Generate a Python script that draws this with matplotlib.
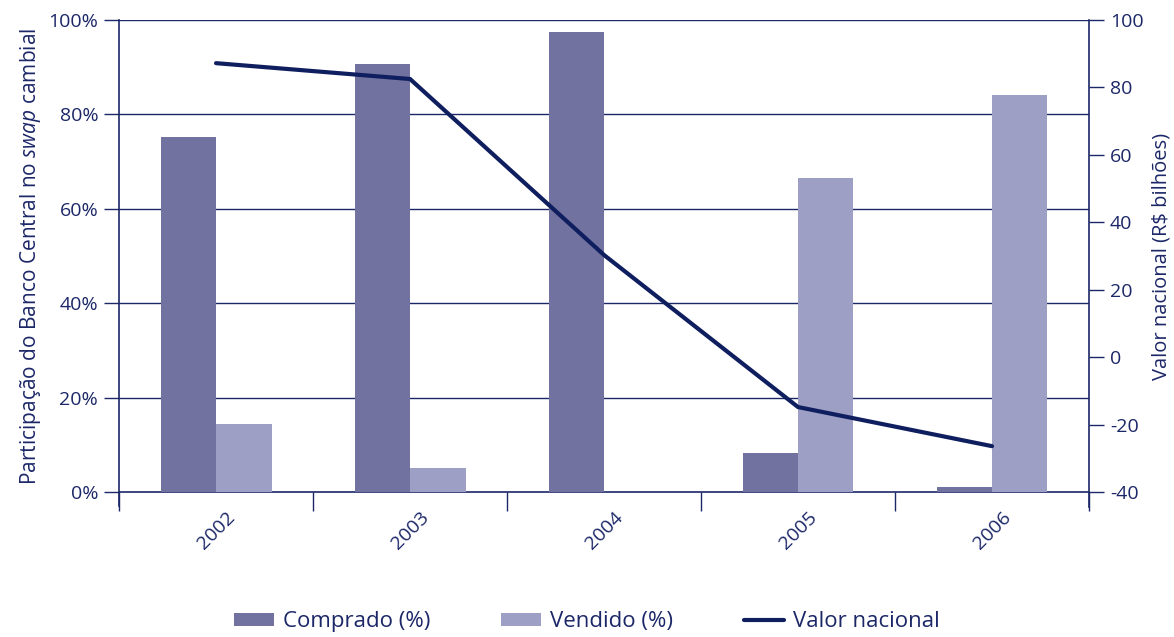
import numpy as np
import matplotlib.pyplot as plt
from matplotlib.ticker import FixedLocator, FuncFormatter

plt.rcParams['font.family'] = ['Open Sans', 'DejaVu Sans']
plt.rcParams['mathtext.fontset'] = 'custom'
plt.rcParams['mathtext.rm'] = 'Open Sans'
plt.rcParams['mathtext.it'] = 'Open Sans:italic'
plt.rcParams['axes.unicode_minus'] = False

# Data
anos = ["2002", "2003", "2004", "2005", "2006"]
comprado = [75.2, 90.7, 97.5, 8.3, 1.1]
vendido = [14.4, 5.1, 0.0, 66.5, 84.1]
valor_nacional = [87.2, 82.5, 30.3, -14.8, -26.4]

navy = "#1c2768"
c_comp = "#7172a0"
c_vend = "#9d9fc4"
c_line = "#0f1e5e"

fig = plt.figure(figsize=(11.74, 6.37), dpi=100)
ax = fig.add_axes([0.1014, 0.2276, 0.8262, 0.7410])
ax2 = ax.twinx()

x = np.arange(len(anos))
w = 0.286
b1 = ax.bar(x - w / 2, comprado, w, color=c_comp, label="Comprado (%)", zorder=3)
b2 = ax.bar(x + w / 2, vendido, w, color=c_vend, label="Vendido (%)", zorder=3)
ln, = ax2.plot(x, valor_nacional, color=c_line, lw=3, label="Valor nacional",
               solid_capstyle='round', solid_joinstyle='miter')

ax.set_xlim(-0.5, 4.5)
ax.set_ylim(0, 100)
ax2.set_ylim(-40, 100)

ax.set_yticks(np.arange(0, 101, 20))
ax.yaxis.set_major_formatter(FuncFormatter(lambda v, p: f"{v:.0f}%"))
ax2.set_yticks(np.arange(-40, 101, 20))

for v in range(20, 101, 20):
    ax.axhline(v, color=navy, lw=1, zorder=1)

# x ticks: boundaries as marks, labels at centres
ax.xaxis.set_major_locator(FixedLocator(np.arange(-0.5, 4.6, 1)))
ax.xaxis.set_major_formatter(FuncFormatter(lambda v, p: ""))
ax.xaxis.set_minor_locator(FixedLocator(x))
ax.set_xticklabels(anos, minor=True, rotation=45, ha='center', va='top')
ax.tick_params(axis='x', which='major', length=14, width=1, color=navy)
ax.tick_params(axis='x', which='minor', length=0, pad=12, labelsize=14, labelcolor=navy)

ax.tick_params(axis='y', length=11, width=1, color=navy, labelsize=14, labelcolor=navy, pad=4)
ax2.tick_params(axis='y', length=11, width=1, color=navy, labelsize=14, labelcolor=navy, pad=4)

for a in (ax, ax2):
    a.spines['top'].set_visible(False)
    for s in ('left', 'right', 'bottom'):
        a.spines[s].set_color(navy)
        a.spines[s].set_linewidth(1.2)
ax2.spines['left'].set_visible(False)
ax2.spines['bottom'].set_visible(False)
ax.spines['right'].set_visible(False)
ax2.spines['right'].set_bounds(-44.5, 100)
ax.spines['left'].set_bounds(-3, 100)

ax.set_ylabel(r"Participação do Banco Central no $\it{swap}$ cambial",
              color=navy, fontsize=15, labelpad=4)
ax2.set_ylabel(r"Valor nacional (R\$ bilhões)",
               color=navy, fontsize=14.5, labelpad=6)

fig.legend([b1, b2, ln], ["Comprado (%)", "Vendido (%)", "Valor nacional"],
           loc='lower center', bbox_to_anchor=(0.5, -0.024), ncol=3, frameon=False,
           fontsize=16, labelcolor=navy, handlelength=1.8, handleheight=0.55,
           columnspacing=3.2, handletextpad=0.4)

fig.savefig("out.png", dpi=100)
